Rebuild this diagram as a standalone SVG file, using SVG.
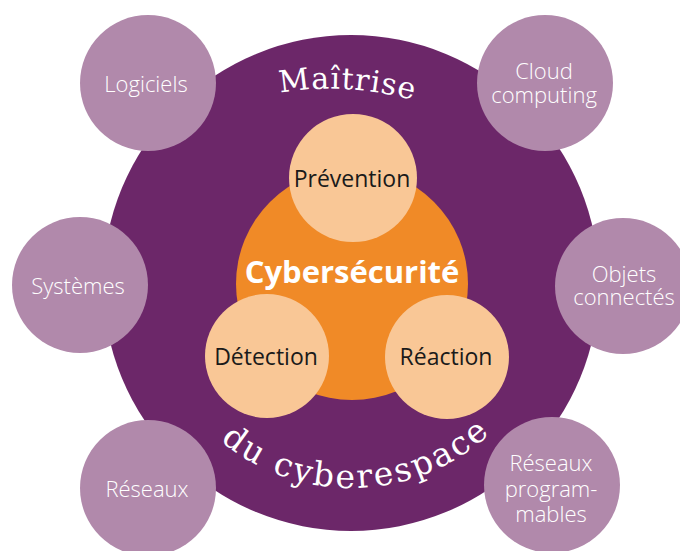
<svg xmlns="http://www.w3.org/2000/svg" xmlns:xlink="http://www.w3.org/1999/xlink" width="680" height="551" viewBox="0 0 680 551">
<style>
.outer{fill:#b189ab}
.peach{fill:#f9c796}
.olab{font-family:"Open Sans","Liberation Sans",sans-serif;font-size:22px;font-weight:300;fill:#ffffff;text-anchor:middle}
.ilab{font-family:"Open Sans","Liberation Sans",sans-serif;font-size:23px;fill:#1a1a1a;text-anchor:middle}
.arc{font-family:"DejaVu Serif","Liberation Serif",serif;fill:#ffffff}
</style>
<defs>
<path id="topArc" d="M 280,93 Q 345,81 421,102"/>
<path id="botArc" d="M 146,283 A 205 205 0 0 0 556,283"/>
</defs>
<rect width="680" height="551" fill="#ffffff"/>
<g id="maitrise-cyberespace">
<circle cx="351" cy="283" r="248" fill="#6c2769"/>
<text class="arc" font-size="30" letter-spacing="1"><textPath xlink:href="#topArc" href="#topArc">Maîtrise</textPath></text>
<text class="arc" font-size="33" letter-spacing="2.5" text-anchor="middle"><textPath xlink:href="#botArc" href="#botArc" startOffset="51%">du cyberespace</textPath></text>
</g>
<g id="logiciels"><circle class="outer" cx="148" cy="83" r="68"/><text class="olab" x="146" y="92">Logiciels</text></g>
<g id="cloud-computing"><circle class="outer" cx="545" cy="83" r="68"/><text class="olab" x="544" y="79">Cloud</text><text class="olab" x="544" y="103">computing</text></g>
<g id="systemes"><circle class="outer" cx="80" cy="285" r="68"/><text class="olab" x="78" y="294">Systèmes</text></g>
<g id="objets-connectes"><circle class="outer" cx="623" cy="286" r="68"/><text class="olab" x="624" y="282">Objets</text><text class="olab" x="624" y="305">connectés</text></g>
<g id="reseaux"><circle class="outer" cx="148" cy="488" r="68"/><text class="olab" x="147" y="497">Réseaux</text></g>
<g id="reseaux-programmables"><circle class="outer" cx="552" cy="485" r="68"/><text class="olab" x="551" y="471">Réseaux</text><text class="olab" x="551" y="497">program-</text><text class="olab" x="551" y="522">mables</text></g>
<g id="cybersecurite"><circle cx="352" cy="284" r="116" fill="#f08a27"/><text x="352" y="283" font-family="'Open Sans','Liberation Sans',sans-serif" font-size="31" font-weight="bold" fill="#ffffff" text-anchor="middle">Cybersécurité</text></g>
<g id="prevention"><circle class="peach" cx="353" cy="178" r="64"/><text class="ilab" x="352" y="187">Prévention</text></g>
<g id="detection"><circle class="peach" cx="267" cy="356" r="62"/><text class="ilab" x="266" y="365">Détection</text></g>
<g id="reaction"><circle class="peach" cx="447" cy="357" r="62"/><text class="ilab" x="446" y="365">Réaction</text></g>
</svg>
